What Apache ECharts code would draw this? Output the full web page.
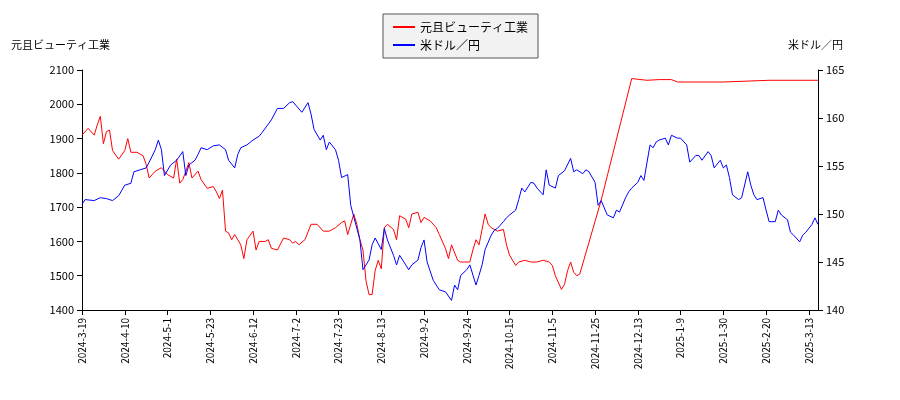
<!DOCTYPE html>
<html>
<head>
<meta charset="utf-8">
<script src="https://cdn.jsdelivr.net/npm/echarts@6/dist/echarts.min.js"></script>
<style>html,body{margin:0;padding:0;background:#fff}#main{width:900px;height:400px}</style>
</head>
<body>
<div id="main"></div>
<script>
// trading-day index (0 = 2024-3-19), one tick label every 14 trading days
const tickLabels = ['2024-3-19', '2024-4-10', '2024-5-1', '2024-5-23', '2024-6-12', '2024-7-2', '2024-7-23',
	'2024-8-13', '2024-9-2', '2024-9-24', '2024-10-15', '2024-11-5', '2024-11-25', '2024-12-13',
	'2025-1-9', '2025-1-30', '2025-2-20', '2025-3-13'];
const lastDay = 241;

const stockDays = [0, 2, 4, 5, 6, 7, 8, 9, 10, 12, 14, 15, 16, 18, 20, 21, 22, 24, 26, 28, 30, 31, 32, 33, 35, 36, 38, 39, 41, 43, 44, 45, 46, 47, 48, 49, 50, 52, 53, 54, 56, 57, 58, 60, 61, 62, 64, 66, 68, 69, 70, 71, 73, 75, 77, 79, 81, 83, 85, 86, 87, 89, 90, 91, 92, 93, 94, 95, 96, 97, 98, 99, 100, 102, 103, 104, 106, 107, 108, 110, 111, 112, 114, 116, 117, 119, 120, 121, 123, 124, 125, 127, 128, 129, 130, 132, 133, 134, 136, 138, 139, 140, 142, 143, 145, 147, 149, 151, 153, 154, 155, 157, 158, 159, 160, 161, 162, 163, 170, 180, 185, 189, 193, 195, 210, 225, 241];
const stockValues = [1910, 1930, 1910, 1940, 1965, 1885, 1920, 1925, 1865, 1840, 1865, 1900, 1860, 1860, 1850, 1825, 1785, 1805, 1815, 1795, 1785, 1840, 1770, 1780, 1830, 1785, 1805, 1780, 1755, 1760, 1745, 1725, 1750, 1630, 1625, 1605, 1620, 1590, 1550, 1605, 1630, 1575, 1600, 1600, 1605, 1580, 1575, 1610, 1605, 1595, 1600, 1590, 1605, 1650, 1650, 1630, 1630, 1640, 1655, 1660, 1620, 1680, 1650, 1605, 1575, 1485, 1445, 1445, 1515, 1545, 1520, 1640, 1650, 1635, 1605, 1675, 1665, 1640, 1680, 1685, 1655, 1670, 1660, 1640, 1620, 1580, 1550, 1590, 1545, 1540, 1540, 1540, 1575, 1605, 1590, 1680, 1650, 1640, 1630, 1635, 1590, 1560, 1530, 1540, 1545, 1540, 1540, 1545, 1540, 1530, 1500, 1460, 1475, 1515, 1540, 1510, 1500, 1505, 1720, 2075, 2070, 2072, 2072, 2065, 2065, 2070, 2070, 2068, 2068];

const fxDays = [0, 1, 4, 6, 8, 10, 12, 14, 16, 17, 19, 21, 22, 24, 25, 26, 27, 29, 31, 33, 34, 35, 37, 38, 39, 41, 43, 45, 47, 48, 50, 51, 52, 54, 56, 58, 59, 62, 64, 66, 68, 69, 72, 74, 75, 76, 78, 79, 80, 81, 83, 84, 85, 87, 88, 90, 91, 92, 94, 95, 96, 98, 99, 100, 102, 103, 104, 106, 107, 108, 110, 111, 112, 113, 115, 116, 117, 119, 121, 122, 123, 124, 126, 127, 129, 130, 131, 132, 134, 135, 136, 138, 139, 140, 142, 143, 144, 145, 147, 148, 149, 151, 152, 153, 155, 156, 158, 160, 161, 162, 164, 165, 166, 168, 169, 170, 172, 174, 175, 176, 178, 179, 180, 182, 183, 184, 186, 187, 188, 189, 191, 192, 193, 195, 196, 198, 199, 201, 202, 203, 205, 206, 207, 209, 210, 211, 212, 213, 215, 216, 218, 219, 220, 221, 223, 224, 225, 227, 228, 229, 231, 232, 233, 235, 236, 237, 239, 240, 241];
const fxValues = [151, 151.5, 151.4, 151.7, 151.6, 151.4, 151.9, 153, 153.2, 154.4, 154.6, 154.8, 155.4, 156.7, 157.7, 156.7, 154, 155.1, 155.6, 156.5, 154, 155.1, 155.6, 156.2, 156.9, 156.7, 157.1, 157.2, 156.7, 155.6, 154.8, 156.2, 156.9, 157.2, 157.7, 158.1, 158.5, 159.8, 161, 161, 161.6, 161.7, 160.6, 161.6, 160.4, 158.8, 157.7, 158.2, 156.7, 157.5, 156.7, 155.6, 153.8, 154.1, 150.9, 148.5, 147.3, 144.2, 145.2, 146.8, 147.5, 146.3, 148.5, 147.3, 145.7, 144.7, 145.7, 144.7, 144.2, 144.7, 145.2, 146.5, 147.3, 145, 143.1, 142.6, 142.1, 141.9, 141, 142.6, 142.1, 143.6, 144.2, 144.7, 142.6, 143.6, 144.7, 146.3, 147.8, 148.3, 148.5, 149.2, 149.6, 149.9, 150.4, 151.5, 152.7, 152.3, 153.3, 153.2, 152.7, 152, 154.6, 153, 152.7, 154, 154.5, 155.8, 154.4, 154.6, 154.2, 154.6, 154.4, 153.3, 150.9, 151.4, 149.9, 149.6, 150.4, 150.2, 151.7, 152.3, 152.7, 153.3, 154, 153.5, 157.2, 156.9, 157.5, 157.7, 157.9, 157.2, 158.2, 157.9, 157.9, 157.2, 155.4, 156.1, 156.1, 155.6, 156.5, 156.1, 154.8, 155.6, 154.8, 155.1, 153.8, 152, 151.5, 151.7, 154.4, 153, 152, 151.5, 151.7, 150.4, 149.2, 149.2, 150.4, 149.9, 149.4, 148.1, 147.8, 147.1, 147.8, 148.1, 148.9, 149.6, 148.9];

const pairs = (xs, ys) => xs.map((x, i) => [x, ys[i]]);

const chart = echarts.init(document.getElementById('main'));
chart.setOption({
	animation: false,
	textStyle: { fontFamily: 'Noto Sans CJK JP' },
	legend: {
		top: 14,
		left: 383,
		orient: 'vertical',
		itemGap: 6,
		itemWidth: 22,
		itemHeight: 2,
		icon: 'rect',
		padding: [7, 10],
		borderColor: '#555',
		borderWidth: 1,
		backgroundColor: '#f2f2f2',
		textStyle: { fontSize: 12, color: '#000' },
		data: ['元且ビューティ工業', '米ドル／円']
	},
	grid: { left: 82, right: 82, top: 70, bottom: 90 },
	xAxis: {
		type: 'value',
		min: 0,
		max: lastDay,
		interval: 14,
		splitLine: { show: false },
		axisLine: { lineStyle: { color: '#000' } },
		axisTick: { lineStyle: { color: '#000' } },
		axisLabel: {
			rotate: 90, fontSize: 10, color: '#000', showMaxLabel: false,
			formatter: v => tickLabels[v / 14] || ''
		}
	},
	yAxis: [
		{
			type: 'value',
			name: '元且ビューティ工業',
			nameLocation: 'end',
			nameGap: 20,
			nameTextStyle: { align: 'right', padding: [0, -28, 0, 0], color: '#000', fontSize: 11 },
			min: 1400,
			max: 2100,
			interval: 100,
			splitLine: { show: false },
			axisLine: { show: true, lineStyle: { color: '#000' } },
			axisTick: { show: true },
			axisLabel: { color: '#000', fontSize: 11, formatter: v => String(v) }
		},
		{
			type: 'value',
			name: '米ドル／円',
			nameLocation: 'end',
			nameGap: 20,
			nameTextStyle: { align: 'left', padding: [0, 0, 0, -30], color: '#000', fontSize: 11 },
			min: 140,
			max: 165,
			interval: 5,
			splitLine: { show: false },
			axisLine: { show: true, lineStyle: { color: '#000' } },
			axisTick: { show: true },
			axisLabel: { color: '#000', fontSize: 11 }
		}
	],
	series: [
		{
			name: '元且ビューティ工業',
			type: 'line',
			symbol: 'none',
			color: '#ff0000',
			lineStyle: { width: 1 },
			data: pairs(stockDays, stockValues)
		},
		{
			name: '米ドル／円',
			type: 'line',
			yAxisIndex: 1,
			symbol: 'none',
			color: '#0000ff',
			lineStyle: { width: 1 },
			data: pairs(fxDays, fxValues)
		}
	]
});
</script>
</body>
</html>
